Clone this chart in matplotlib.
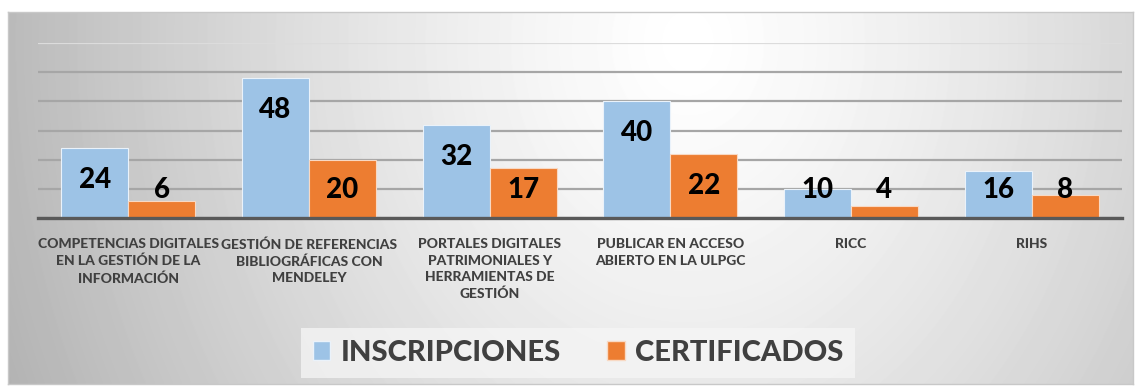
import numpy as np
import matplotlib.pyplot as plt
from matplotlib.patches import Patch

plt.rcParams['font.family'] = ['Lato', 'DejaVu Sans']

cursos = [
    "COMPETENCIAS DIGITALES\nEN LA GESTIÓN DE LA\nINFORMACIÓN",
    "GESTIÓN DE REFERENCIAS\nBIBLIOGRÁFICAS CON\nMENDELEY",
    "PORTALES DIGITALES\nPATRIMONIALES Y\nHERRAMIENTAS DE\nGESTIÓN",
    "PUBLICAR EN ACCESO\nABIERTO EN LA ULPGC",
    "RICC",
    "RIHS",
]
inscripciones = [24, 48, 32, 40, 10, 16]
certificados = [6, 20, 17, 22, 4, 8]

azul = "#9DC3E6"
naranja = "#ED7D31"
texto = "#404040"

fig = plt.figure(figsize=(11.4, 3.87), dpi=100)

# fondo del área del gráfico con degradado gris claro
bg = fig.add_axes([8 / 1140, 3 / 387, 1125 / 1140, 372 / 387])
h, w = 372, 1125
yy, xx = np.mgrid[0:h, 0:w]
r = np.sqrt(((xx - 680) / 700.0) ** 2 + ((yy - 30) / 850.0) ** 2)
v = 1.0 - 0.28 * np.clip(r, 0, 1.2) ** 1.3
bg.imshow(v, cmap="gray", vmin=0, vmax=1, aspect="auto", interpolation="bilinear")
bg.set_xticks([])
bg.set_yticks([])
for s in bg.spines.values():
    s.set_color("#C8C8C8")
    s.set_linewidth(1.0)

ax = fig.add_axes([38 / 1140, (387 - 218) / 387, 1084 / 1140, 175 / 387])
ax.patch.set_alpha(0)

x = np.arange(len(cursos))
ancho = 0.37
b1 = ax.bar(x - ancho / 2, inscripciones, ancho, color=azul, edgecolor="#EAF2FA", linewidth=0.8, zorder=3)
b2 = ax.bar(x + ancho / 2, certificados, ancho, color=naranja, edgecolor="#F8D9C4", linewidth=0.8, zorder=3)

# etiquetas de datos: dentro del extremo, sin bajar de la franja inferior
for barras, vals in ((b1, inscripciones), (b2, certificados)):
    for b, val in zip(barras, vals):
        ax.text(b.get_x() + b.get_width() / 2, max(val - 11, 9.6), str(val),
                ha="center", va="center", fontsize=20, fontweight="black",
                color="black", zorder=4)

ax.set_xlim(-0.5, len(cursos) - 0.5)
ax.set_ylim(0, 60)
ax.set_yticks(np.arange(0, 61, 10))
ax.yaxis.grid(True, color="#A6A6A6", linewidth=1.6, zorder=0)
ax.get_ygridlines()[-1].set_color("#DCDCDC")
ax.tick_params(axis="y", left=False, labelleft=False)
ax.tick_params(axis="x", bottom=False, pad=11)
ax.set_xticks(x)
ax.set_xticklabels(cursos, fontsize=10, fontweight="black", color=texto, linespacing=1.45, va="top")
for s in ("top", "right", "left"):
    ax.spines[s].set_visible(False)
ax.spines["bottom"].set_color("#595959")
ax.spines["bottom"].set_linewidth(2.4)
ax.spines["bottom"].set_zorder(5)

handles = [Patch(facecolor=azul, edgecolor="#EAF2FA"), Patch(facecolor=naranja, edgecolor="#F8D9C4")]
leg = fig.legend(handles, ["INSCRIPCIONES", "CERTIFICADOS"], loc="center",
                 bbox_to_anchor=(578 / 1140, 34 / 387), ncol=2, frameon=True,
                 prop={"size": 21, "weight": "black"}, handlelength=0.6, handleheight=0.6,
                 handletextpad=0.35, columnspacing=1.6, borderpad=0.4, borderaxespad=0,
                 fancybox=False)
leg.get_frame().set_facecolor("#F6F6F6")
leg.get_frame().set_alpha(0.75)
leg.get_frame().set_edgecolor("none")
for t in leg.get_texts():
    t.set_color(texto)

fig.savefig("out.png", dpi=100)
